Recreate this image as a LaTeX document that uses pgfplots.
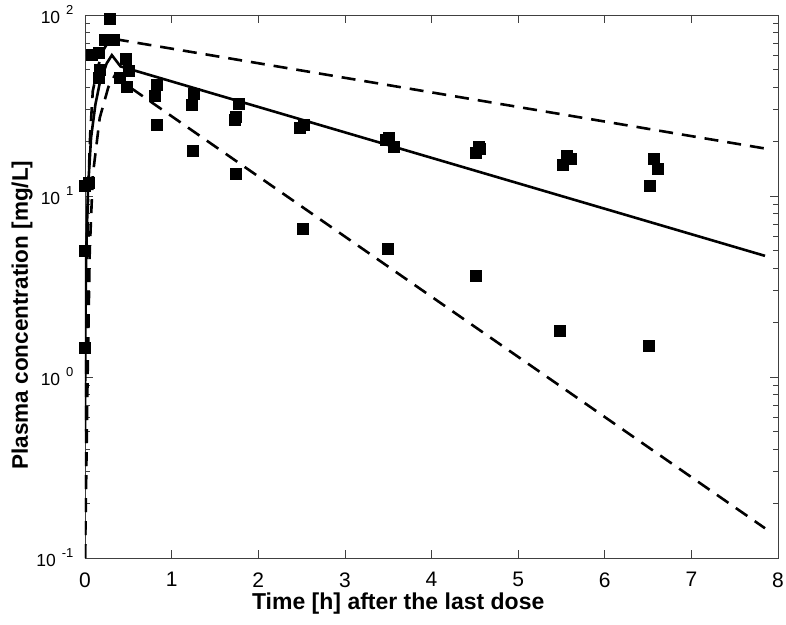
\documentclass[border=0pt]{standalone}
\usepackage{pgfplots}
\pgfplotsset{compat=1.18}
\usepackage{fontspec}
\setmainfont{Liberation Sans}
\newcommand{\myexp}[1]{\hspace{6pt}\raisebox{9pt}{\fontsize{13}{13}\selectfont #1}}
\begin{document}
\begin{tikzpicture}
\begin{axis}[
  scale only axis, width=693pt, height=543pt,
  ymode=log, xmin=0, xmax=8, ymin=0.1, ymax=100,
  xtick={0,1,...,8},
  ytick={0.1,1,10,100},
  yticklabels={10\myexp{-1},10\myexp{0},10\myexp{1},10\myexp{2}},
  /pgf/number format/assume math mode=true,
  tick align=inside, tickpos=both,
  major tick length=8pt, minor tick length=5pt,
  axis line style={black!75, line width=0.7pt},
  every tick/.style={black!75, line width=0.7pt},
  xticklabel style={font=\fontsize{21}{24}\selectfont, yshift=-11pt},
  yticklabel style={font=\fontsize{17.5}{20}\selectfont, xshift=-8pt},
  xlabel={\bfseries Time [h] after the last dose},
  ylabel={\bfseries Plasma concentration [mg/L]},
  xlabel style={font=\fontsize{23}{27}\selectfont, at={(ticklabel cs:0.452)}, yshift=1pt},
  ylabel style={font=\fontsize{22.5}{27}\selectfont, at={(ticklabel cs:0.4475)}, yshift=-3pt},
  clip=true,
]
% upper dashed
\addplot[black, line width=2.6pt, dash pattern=on 14pt off 9pt] coordinates {
(0.0,0.1) (0.01,0.6) (0.02,3) (0.035,10) (0.06,22) (0.09,38) (0.15,52) (0.22,65) (0.3,75) (0.34,76) (0.39,73) (7.85,18.3)};
% lower dashed
\addplot[black, line width=2.6pt, dash pattern=on 14pt off 9pt] coordinates {
(0.0,0.1) (0.01,0.2) (0.03,1) (0.055,5) (0.09,13) (0.17,27) (0.27,40) (0.34,46) (0.39,44) (7.85,0.146)};
% solid
\addplot[black, line width=2.6pt] coordinates {
(0.0,0.5) (0.005,2) (0.015,5) (0.035,11) (0.07,21) (0.12,32) (0.17,42) (0.25,54) (0.31,60) (0.41,52) (7.85,4.67)};
% observations
\addplot[only marks, mark=square*, mark size=5.5pt, black] coordinates {
(0.0,11.4) (0.04,11.8) (0.0,5.0) (0.0,1.45)
(0.077,60) (0.154,62) (0.23,73) (0.327,73) (0.29,96)
(0.47,57) (0.50,49) (0.48,40) (0.17,50) (0.154,45) (0.40,45)
(0.83,41) (0.81,36) (0.83,24.7)
(1.25,36.8) (1.23,31.8) (1.24,17.8)
(1.77,32.4) (1.74,27.4) (1.73,26.5) (1.74,13.3)
(2.52,24.7) (2.48,23.9) (2.51,6.6)
(3.51,21) (3.47,20.5) (3.56,18.7) (3.50,5.1)
(4.54,18.7) (4.51,17.3) (4.56,18.3) (4.51,3.63)
(5.56,16.6) (5.61,16.1) (5.52,14.9) (5.48,1.81)
(6.56,16.0) (6.61,14.1) (6.52,11.4) (6.51,1.49)
};
\end{axis}
\pgfresetboundingbox
\path ([shift={(-85pt,-66pt)}]current axis.south west) rectangle ([shift={(8pt,15pt)}]current axis.north east);
\end{tikzpicture}
\end{document}
